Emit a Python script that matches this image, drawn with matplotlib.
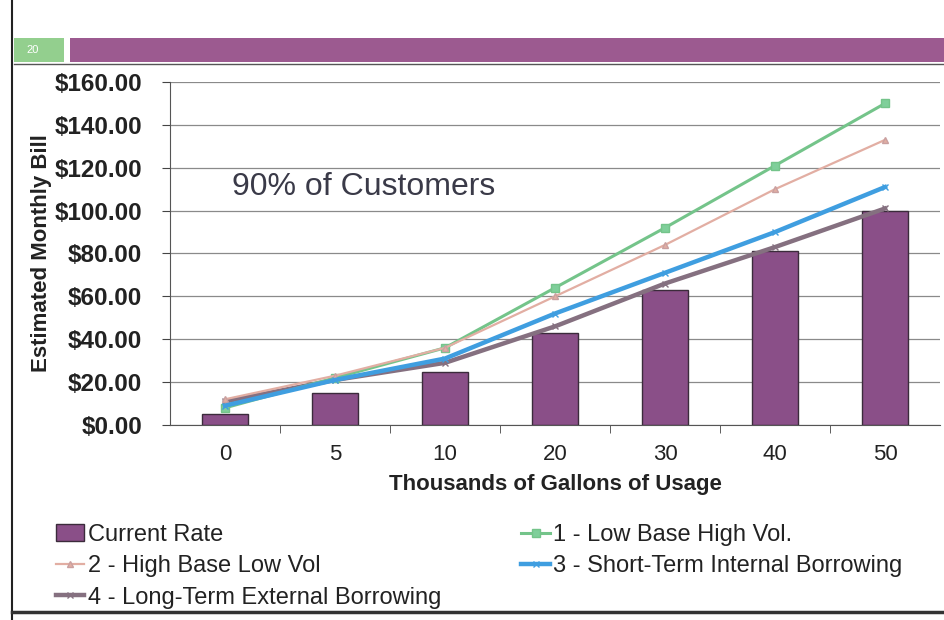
import numpy as np
import matplotlib
matplotlib.use("Agg")
import matplotlib.pyplot as plt
from matplotlib.patches import Rectangle
from matplotlib.lines import Line2D

plt.rcParams["font.family"] = ["Liberation Sans", "DejaVu Sans"]

# ---- data ----
usage = ["0", "5", "10", "20", "30", "40", "50"]
current_rate = [5, 15, 24.5, 43, 63, 81, 100]
low_base_high_vol = [8, 22, 36, 64, 92, 121, 150]
high_base_low_vol = [12, 23, 36, 60, 84, 110, 133]
short_term_internal = [9, 21, 31, 52, 71, 90, 111]
long_term_external = [11, 21, 29, 46, 66, 83, 101]
y_ticks = [0, 20, 40, 60, 80, 100, 120, 140, 160]

W, H = 945, 620
fig = plt.figure(figsize=(W / 100, H / 100), dpi=100)
fig.patch.set_facecolor("white")

# slide banner + frame
fig.patches.append(Rectangle((14 / W, 1 - 62 / H), 50 / W, 24 / H, transform=fig.transFigure,
                             facecolor="#93cf8e", edgecolor="none"))
fig.text(26 / W, 1 - 50 / H, "20", color="white", fontsize=8, va="center", ha="left")
fig.patches.append(Rectangle((70 / W, 1 - 62 / H), 875 / W, 24 / H, transform=fig.transFigure,
                             facecolor="#9c5a90", edgecolor="none"))
fig.lines.append(Line2D([14 / W, 1], [1 - 64 / H, 1 - 64 / H], transform=fig.transFigure,
                        color="#555555", lw=1))
fig.lines.append(Line2D([12 / W, 12 / W], [0, 1], transform=fig.transFigure, color="#222222", lw=1.5))
fig.lines.append(Line2D([12 / W, 1], [1 - 612 / H, 1 - 612 / H], transform=fig.transFigure,
                        color="#333333", lw=2.5))

ax = fig.add_axes([170 / W, 1 - 425 / H, 770 / W, 343 / H])
x = np.arange(len(usage))

bars = ax.bar(x, current_rate, width=0.41, color="#8a4f88", edgecolor="#3b2b3b", linewidth=1.0,
              zorder=2)
l1, = ax.plot(x, low_base_high_vol, color="#74c48a", lw=2.2, marker="s", ms=6,
              mfc="#7fcf9a", mec="#74c48a", zorder=4)
l2, = ax.plot(x, high_base_low_vol, color="#e2aea3", lw=1.6, marker="^", ms=5,
              mfc="#e2aea3", mec="#c9a0a0", zorder=4)
l3, = ax.plot(x, short_term_internal, color="#3f9ee0", lw=3.2, marker="x", ms=5,
              mec="#3f9ee0", zorder=5)
l4, = ax.plot(x, long_term_external, color="#857080", lw=3.2, marker="x", ms=5,
              mec="#857080", zorder=3)

ax.set_xlim(-0.5, len(usage) - 0.5)
ax.set_ylim(0, 160)
ax.set_yticks(y_ticks)
ax.set_yticklabels([f"${v:.2f}" for v in y_ticks], fontsize=17.5, fontweight="bold", color="#222222")
ax.set_xticks(x)
ax.set_xticklabels(usage, fontsize=16, color="#222222")
ax.set_xticks(np.arange(0.5, len(usage) - 0.5, 1.0), minor=True)
ax.tick_params(axis="x", which="major", length=0, pad=14)
ax.tick_params(axis="x", which="minor", length=6, direction="out", color="#444444")
ax.tick_params(axis="y", length=6, direction="out", color="#444444", pad=14)
ax.grid(axis="y", color="#8a8a8a", lw=0.9, zorder=0)
ax.set_axisbelow(True)
for s in ["top", "right"]:
    ax.spines[s].set_visible(False)
ax.spines["left"].set_color("#555555")
ax.spines["bottom"].set_color("#555555")

ax.set_xlabel("Thousands of Gallons of Usage", fontsize=16, fontweight="bold", color="#222222", labelpad=6)
ax.set_ylabel("Estimated Monthly Bill", fontsize=16, fontweight="bold", color="#222222", labelpad=2)

ax.text(0.08, 0.695, "90% of Customers", transform=ax.transAxes, fontsize=23,
        color="#3a3a48", va="center", ha="left")

# column-major fill: left column = Current, 2, 4; right column = 1, 3
handles = [bars, l2, l4, l1, l3]
labels = ["Current Rate", "2 - High Base Low Vol", "4 - Long-Term External Borrowing",
          "1 - Low Base High Vol.", "3 - Short-Term Internal Borrowing"]
fig.legend(handles, labels,
           loc="upper left", bbox_to_anchor=(44 / W, 1 - 512 / H), ncol=2, frameon=False,
           fontsize=17, handlelength=1.2, handletextpad=0.15, columnspacing=3.4,
           labelspacing=0.4, borderpad=0, labelcolor="#222222")

fig.savefig("out.png", dpi=100)
